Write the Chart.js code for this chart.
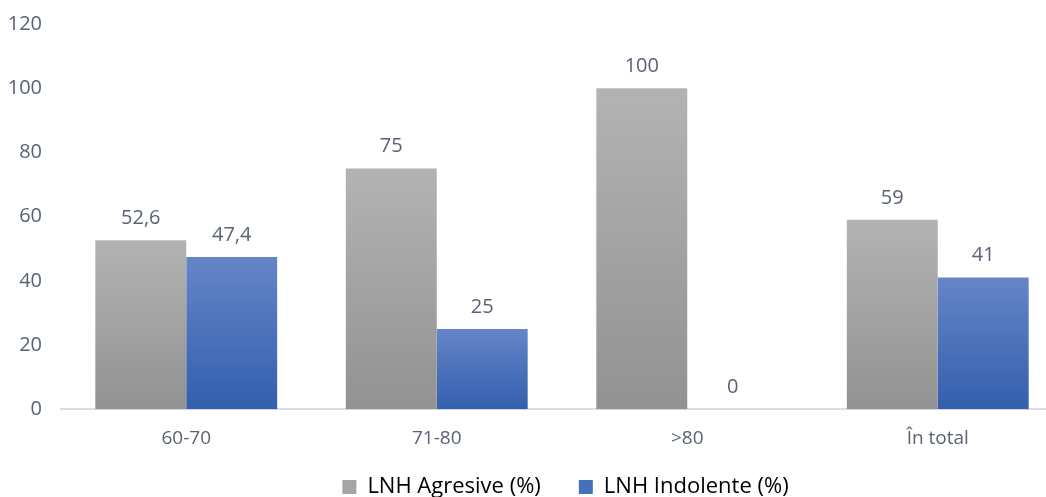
<!DOCTYPE html>
<html>
<head>
<meta charset="utf-8">
<script src="https://cdn.jsdelivr.net/npm/chart.js@4/dist/chart.umd.min.js"></script>
<style>
  html, body { margin: 0; padding: 0; background: #fff; overflow: hidden; }
  #wrap { width: 1134px; height: 497px; }
</style>
</head>
<body>
<div id="wrap"><canvas id="lnhChart"></canvas></div>
<script>
const categories = ['60-70', '71-80', '>80', 'În total'];
const agresive = [52.6, 75, 100, 59];
const indolente = [47.4, 25, 0, 41];
const yTicks = [0, 20, 40, 60, 80, 100, 120];

const textColor = '#5a6275';

// vertical gradient per bar, lighter at the top
function barGradient(top, bottom) {
  return function (ctx) {
    const chart = ctx.chart;
    if (!chart.chartArea || !chart.scales.y) return bottom;
    const y = chart.scales.y;
    const y0 = y.getPixelForValue(ctx.raw);
    const y1 = y.getPixelForValue(0);
    if (y1 - y0 < 1) return bottom;
    const g = chart.ctx.createLinearGradient(0, y0, 0, y1);
    g.addColorStop(0, top);
    g.addColorStop(1, bottom);
    return g;
  };
}

const valueLabels = {
  id: 'valueLabels',
  afterDatasetsDraw(chart) {
    const c = chart.ctx;
    c.save();
    c.font = '20px "Open Sans"';
    c.fillStyle = textColor;
    c.textAlign = 'center';
    c.textBaseline = 'middle';
    chart.data.datasets.forEach((ds, i) => {
      chart.getDatasetMeta(i).data.forEach((bar, j) => {
        const txt = String(ds.data[j]).replace('.', ',');
        c.fillText(txt, bar.x, bar.y - 22);
      });
    });
    c.restore();
  }
};

// move the legend a little: up closer to the axis labels, right under the middle
const legendShift = {
  id: 'legendShift',
  afterLayout(chart) {
    const lg = chart.legend;
    lg.top -= 30;
    lg.bottom -= 30;
    lg.left += 34;
    lg.right += 34;
  }
};

const ctx = document.getElementById('lnhChart');

new Chart(ctx, {
  type: 'bar',
  data: {
    labels: categories,
    datasets: [{
      label: 'LNH Agresive (%)',
      data: agresive,
      backgroundColor: barGradient('#b2b3b2', '#929292'),
      borderWidth: 0
    },
    {
      label: 'LNH Indolente (%)',
      data: indolente,
      backgroundColor: barGradient('#6585c8', '#335fae'),
      borderWidth: 0
    }]
  },
  options: {
    responsive: true,
    maintainAspectRatio: false,
    animation: false,
    layout: {
      padding: { top: 3, right: 71, bottom: -41, left: 0 }
    },
    datasets: {
      bar: {
        categoryPercentage: 0.726,
        barPercentage: 1
      }
    },
    scales: {
      x: {
        grid: { display: false, drawTicks: false },
        border: { color: '#d9dde6', width: 2 },
        ticks: {
          color: textColor,
          font: { family: 'Open Sans', size: 19 },
          padding: 18
        }
      },
      y: {
        min: 0,
        max: 120,
        afterBuildTicks(axis) {
          axis.ticks = yTicks.map(v => ({ value: v }));
        },
        afterFit(axis) {
          axis.width = 61;
          axis.paddingTop = 24;
          axis.paddingBottom = 0;
        },
        grid: { display: false, drawTicks: false },
        border: { display: false },
        ticks: {
          color: textColor,
          font: { family: 'Open Sans', size: 20 },
          padding: 19
        }
      }
    },
    plugins: {
      legend: {
        position: 'bottom',
        labels: {
          color: textColor,
          font: { family: 'Open Sans', size: 22 },
          boxWidth: 14,
          boxHeight: 14,
          padding: 38,
          generateLabels() {
            return [
              { text: 'LNH Agresive (%)', fillStyle: '#a5a5a5', strokeStyle: '#a5a5a5', lineWidth: 0, datasetIndex: 0 },
              { text: 'LNH Indolente (%)', fillStyle: '#4770bb', strokeStyle: '#4770bb', lineWidth: 0, datasetIndex: 1 }
            ];
          }
        }
      },
      tooltip: { enabled: false }
    }
  },
  plugins: [valueLabels, legendShift]
});
</script>
</body>
</html>
